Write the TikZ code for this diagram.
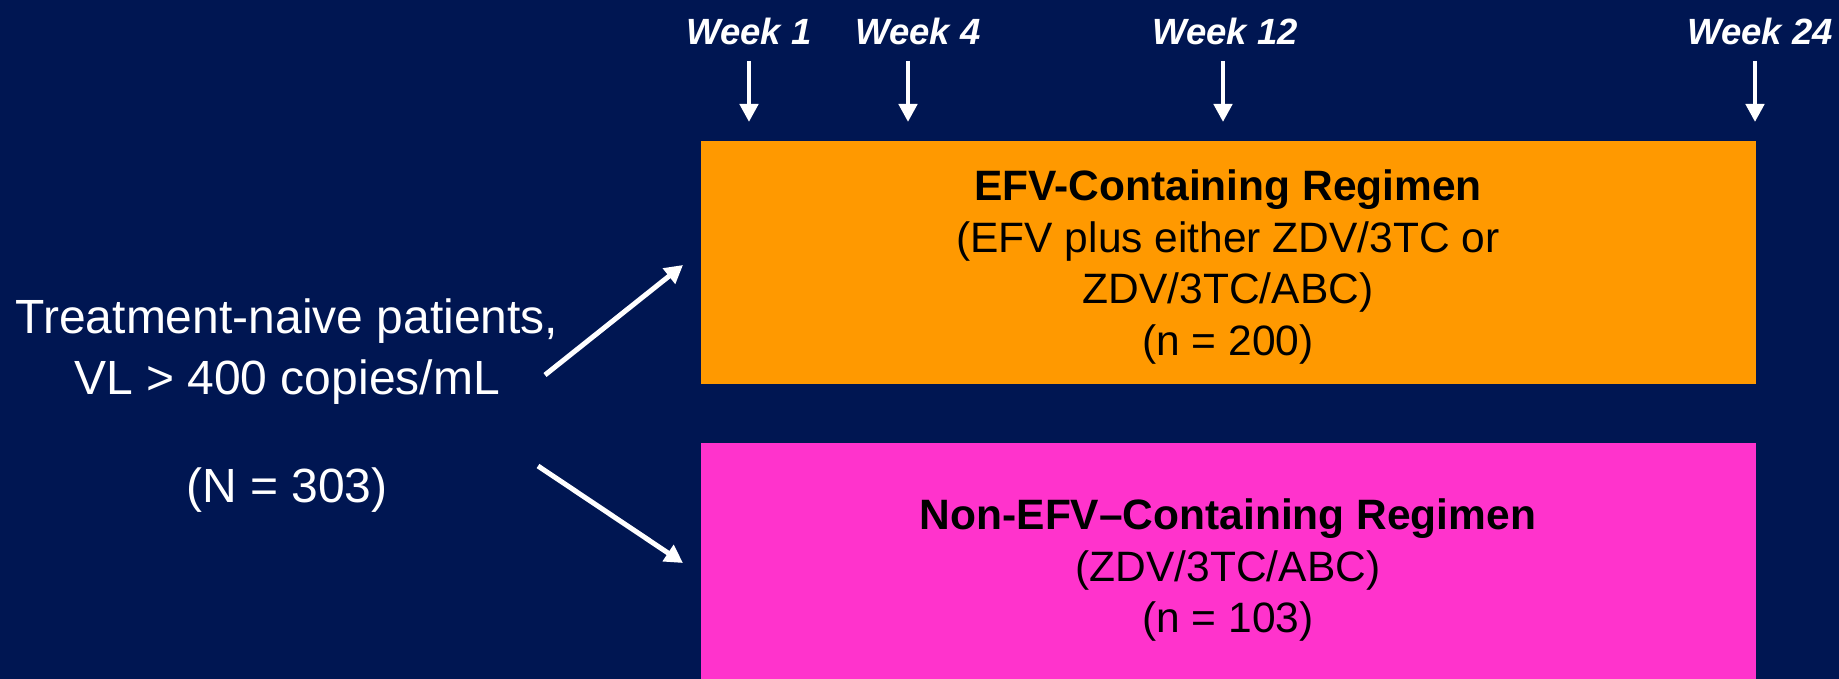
\documentclass[tikz,border=0pt]{standalone}
\usepackage{fontspec}
\setmainfont{Liberation Sans}
\usetikzlibrary{arrows.meta}
\definecolor{bg}{RGB}{0,22,82}
\definecolor{orangebox}{RGB}{255,153,0}
\definecolor{pinkbox}{RGB}{255,51,204}
\tikzset{
  weeklbl/.style={text=white, font=\fontsize{36.5}{42}\selectfont\bfseries\itshape, inner sep=0pt, anchor=base},
  weekarrow/.style={white, line width=4.5pt, -{Triangle[width=18pt,length=18pt]}},
  diagarrow/.style={white, line width=5pt, -{Triangle[width=19pt,length=18pt]}},
  boxtext/.style={text=black, font=\fontsize{42.5}{51.5}\selectfont, align=center, inner sep=0pt},
  lefttext/.style={text=white, font=\fontsize{48}{61}\selectfont, align=center, inner sep=0pt}
}
\begin{document}
\begin{tikzpicture}[x=1pt,y=-1pt]
\fill[bg] (0,0) rectangle (1839,679);
\useasboundingbox (0,0) rectangle (1839,679);
% boxes
\fill[orangebox] (701,141) rectangle (1756,384);
\fill[pinkbox] (701,443) rectangle (1756,679);
% box texts
\node[boxtext] (efv) at (1228,267) {\textbf{EFV-Containing Regimen}\\(EFV plus either ZDV/3TC or\\ZDV/3TC/ABC)\\(n = 200)};
\node[boxtext] (nonefv) at (1228,570) {\textbf{Non-EFV--Containing Regimen}\\(ZDV/3TC/ABC)\\(n = 103)};
% left text
\node[lefttext] (pts) at (287,352) {Treatment-naive patients,\\VL > 400 copies/mL};
\node[lefttext] (nn) at (287,490) {(N = 303)};
% week labels
\node[weeklbl] (w1) at (749,45) {Week 1};
\node[weeklbl] (w4) at (918,45) {Week 4};
\node[weeklbl] (w12) at (1225,45) {Week 12};
\node[weeklbl] (w24) at (1760,45) {Week 24};
% week arrows
\coordinate (a1s) at (749,61); \coordinate (a1e) at (749,122);
\coordinate (a4s) at (908,61); \coordinate (a4e) at (908,122);
\coordinate (a12s) at (1223,61); \coordinate (a12e) at (1223,122);
\coordinate (a24s) at (1755,61); \coordinate (a24e) at (1755,122);
\draw[weekarrow] (a1s) -- (a1e);
\draw[weekarrow] (a4s) -- (a4e);
\draw[weekarrow] (a12s) -- (a12e);
\draw[weekarrow] (a24s) -- (a24e);
% diagonal arrows
\coordinate (d1s) at (545,375); \coordinate (d1e) at (683,265);
\coordinate (d2s) at (538,466); \coordinate (d2e) at (683,563);
\draw[diagarrow] (d1s) -- (d1e);
\draw[diagarrow] (d2s) -- (d2e);
\end{tikzpicture}
\end{document}
